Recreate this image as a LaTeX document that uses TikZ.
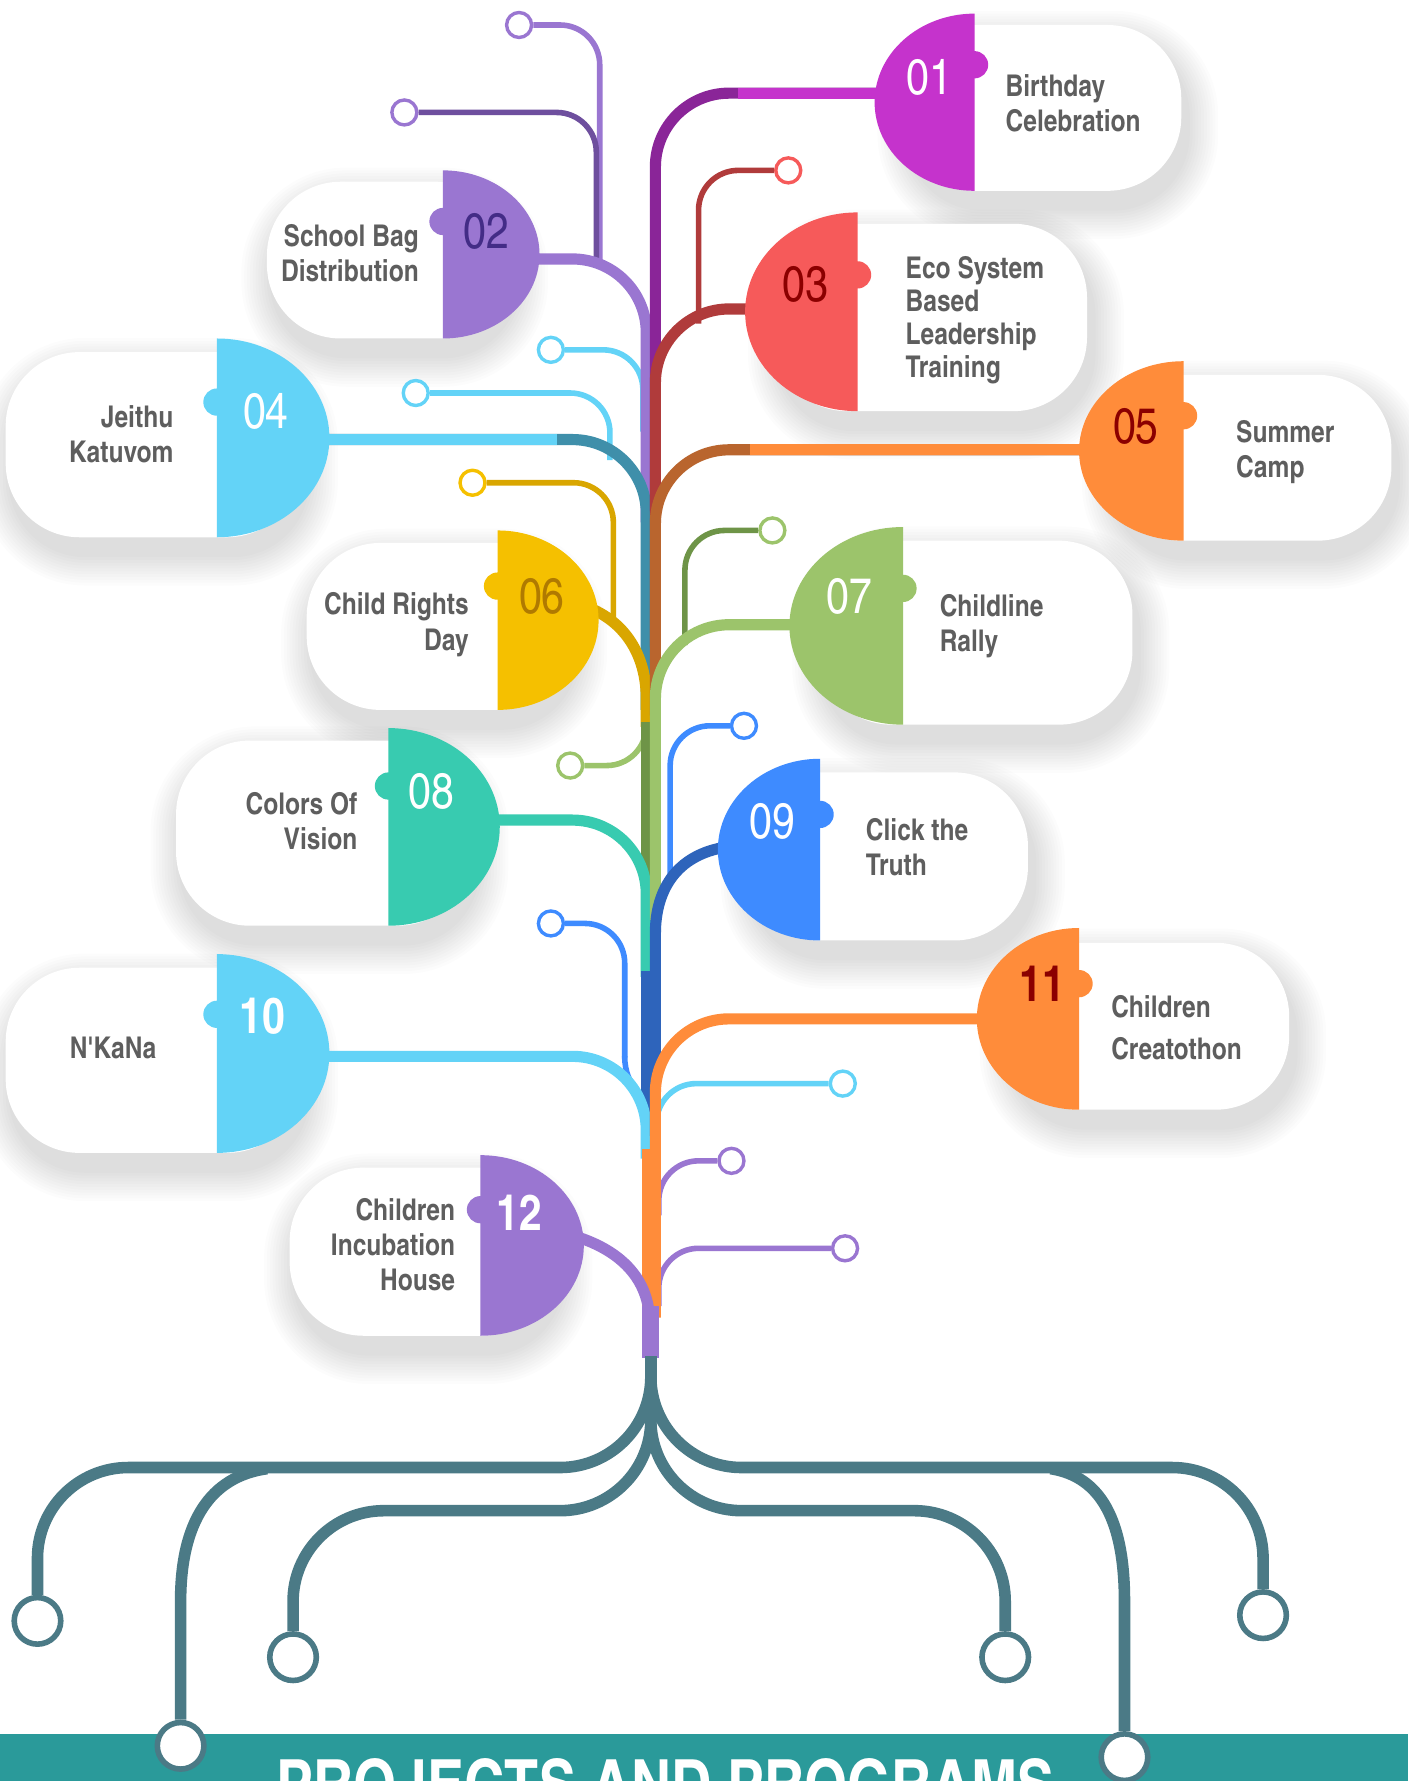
\documentclass[tikz,border=0pt]{standalone}
\usepackage{fontspec}
\usepackage{tikz}
\setmainfont{TeX Gyre Heros Cn}
\definecolor{ink}{HTML}{5E5E5E}
\definecolor{root}{HTML}{4B7A86}
\definecolor{band}{HTML}{2A9A9A}
\definecolor{p01}{HTML}{C533CC}
\definecolor{p01d}{HTML}{8A2598}
\definecolor{p02}{HTML}{9A76D1}
\definecolor{p02d}{HTML}{6E4F9E}
\definecolor{p03}{HTML}{F65A5A}
\definecolor{p03d}{HTML}{B03B3B}
\definecolor{p04}{HTML}{63D3F7}
\definecolor{p04d}{HTML}{3F8FAA}
\definecolor{p05}{HTML}{FF8C3A}
\definecolor{p05d}{HTML}{B9652E}
\definecolor{p06}{HTML}{F5C000}
\definecolor{p06d}{HTML}{D9A600}
\definecolor{p07}{HTML}{9CC46B}
\definecolor{p07d}{HTML}{6E9447}
\definecolor{p08}{HTML}{38CBB0}
\definecolor{p09}{HTML}{3E8BFF}
\definecolor{p09d}{HTML}{2E64BB}
\definecolor{p10}{HTML}{63D3F7}
\definecolor{p11}{HTML}{FF8C3A}
\definecolor{p12}{HTML}{9A76D1}
\definecolor{dkred}{HTML}{8B0000}
\definecolor{dkpurple}{HTML}{432C86}
\definecolor{dkgold}{HTML}{B07A00}
\tikzset{
  card/.style={fill=white, rounded corners=1.3cm},
  haze/.style={fill=black, opacity=0.01},
  stem/.style={line width=5.6pt, rounded corners=1.3cm},
  twig/.style={line width=2.8pt, rounded corners=0.7cm},
  bud/.style={circle, draw, fill=white, line width=1.7pt, minimum size=0.44cm, inner sep=0pt},
  rootline/.style={draw=root, line width=5.8pt, rounded corners=1.6cm},
  rootbud/.style={circle, draw=root, fill=white, line width=2.8pt, minimum size=0.82cm, inner sep=0pt},
  num/.style={font=\fontsize{25}{25}\selectfont},
  numb/.style={font=\bfseries\fontsize{25}{25}\selectfont},
  lab/.style={text=ink, font=\bfseries\fontsize{15}{17.6}\selectfont, inner sep=0pt},
  title/.style={text=white, font=\bfseries\fontsize{34}{34}\selectfont, inner sep=0pt, anchor=north},
}
\def\cards{795/22/1040/168, 235/160/450/298, 681/197/957/362,
  5/310/265/473, 975/330/1225/476, 270/478/502/625, 720/476/997/638,
  155/652/415/815, 657/680/905/828, 5/852/265/1015, 885/830/1135/977,
  255/1028/489/1176}

\begin{document}
\begin{tikzpicture}[x=0.02cm, y=-0.02cm]
  \useasboundingbox (0,0) rectangle (1240,1568);
  \fill[white] (0,0) rectangle (1240,1568);

  % cards and their soft shadows
  \foreach \xa/\ya/\xb/\yb in \cards
    \foreach \k in {1,...,11}
      \fill[haze, rounded corners={1.3cm+\k*0.05cm}]
        (\xa-2.5*\k+5,\ya-2.5*\k+15) rectangle (\xb+2.5*\k+5,\yb+2.5*\k+15);
  \foreach \xa/\ya/\xb/\yb in \cards
    \path[card] (\xa,\ya) rectangle (\xb,\yb);

  % small twigs
  \node[bud, draw=p02] (ba) at (457,22) {};
  \node[bud, draw=p02] (bb) at (356,99) {};
  \node[bud, draw=p03] (bc) at (694,150) {};
  \node[bud, draw=p04] (bd) at (485,308) {};
  \node[bud, draw=p04] (be) at (366,346) {};
  \node[bud, draw=p06] (bf) at (416,425) {};
  \node[bud, draw=p07] (bg) at (680,467) {};
  \node[bud, draw=p07] (bh) at (502,674) {};
  \node[bud, draw=p09] (bi) at (655,639) {};
  \node[bud, draw=p09] (bj) at (485,813) {};
  \node[bud, draw=p04] (bk) at (742,954) {};
  \node[bud, draw=p02] (bl) at (644,1022) {};
  \node[bud, draw=p02] (bm) at (744,1099) {};
  \draw[twig, p02] (ba.east) -- (528,22) -- (528,236);
  \draw[twig, p02d] (bb.east) -- (525,99) -- (525,230);
  \draw[twig, p03d] (bc.west) -- (615,150) -- (615,285);
  \draw[twig, p04] (bd.east) -- (566,308) -- (566,380);
  \draw[twig, p04] (be.east) -- (537,346) -- (537,405);
  \draw[twig, p06d] (bf.east) -- (540,425) -- (540,550);
  \draw[twig, p07d] (bg.west) -- (603,467) -- (603,568);
  \draw[twig, p07] (bh.east) -- (569,674) -- (569,615);
  \draw[twig, p09] (bi.west) -- (590,639) -- (590,775);
  \draw[twig, p09] (bj.east) -- (550,813) -- (550,931);
  \draw[twig, p09, sharp corners] (550,930) .. controls (550,958) and (569,962) .. (569,992);
  \draw[twig, p04] (bk.west) -- (578,954) -- (578,1010);
  \draw[twig, p02] (bl.west) -- (580,1022) -- (580,1070);
  \draw[twig, p02] (bm.west) -- (580,1099) -- (580,1150);

  % left strands
  \draw[stem, p02] (470,228) -- (569,228) -- (569,460);
  \draw[stem, p04d] (285,387) -- (569,387) -- (569,625);
  \draw[stem, p04] (285,387) -- (490,387);
  \draw[stem, p06d, sharp corners] (505,531) .. controls (545,540) and (569,572) .. (569,615) -- (569,640);
  \draw[stem, p07d] (569,636) -- (569,800);
  \draw[stem, p08] (435,722) -- (569,722) -- (569,860);
  \draw[stem, p09d] (569,855) -- (569,1000);
  \draw[stem, p10] (285,930) -- (569,930) -- (569,1020);

  % right strands
  \draw[stem, p01d] (800,82) -- (577,82) -- (577,450);
  \draw[stem, p01] (800,82) -- (650,82);
  \draw[stem, p03d] (690,272) -- (577,272) -- (577,570);
  \draw[stem, p05d] (980,396) -- (577,396) -- (577,630);
  \draw[stem, p05] (980,396) -- (660,396);
  \draw[stem, p07] (720,550) -- (577,550) -- (577,810);
  \draw[stem, p09d, sharp corners] (645,745) .. controls (597,750) and (577,782) .. (577,822) -- (577,1000);
  \draw[stem, p11] (890,897) -- (577,897) -- (577,1160);
  \draw[stem, p11, line width=8.5pt] (573,1012) -- (573,1150);
  \draw[stem, p12, sharp corners] (505,1088) .. controls (545,1100) and (572,1125) .. (572,1165);
  \draw[stem, p12, line width=8.5pt] (573,1150) -- (573,1196);

  % colour halves with their small bumps
  \foreach \f/\t/\b/\w/\e/\c/\by in {858/12/168/88/-270/p01/57, 390/150/298/85/90/p02/195,
      755/187/362/99/-270/p03/242, 191/298/473/99/90/p04/354,
      1042/318/476/92/-270/p05/366, 438/467/625/89/90/p06/516,
      795/464/638/100/-270/p07/518, 342/641/815/98/90/p08/692,
      722/668/828/90/-270/p09/717, 191/840/1015/99/90/p10/893,
      950/817/977/90/-270/p11/866, 423/1017/1176/91/90/p12/1065}
  {
    \fill[\c] (\f,\t) arc[start angle=-90, end angle=\e, x radius=\w, y radius={(\b-\t)/2}] -- cycle;
    \fill[\c] (\f,\by) circle[radius=12];
  }

  \node[num, text=white] (n01) at (818,68) {01};
  \node[num, text=dkpurple] (n02) at (428,204) {02};
  \node[num, text=dkred] (n03) at (709,250) {03};
  \node[num, text=white] (n04) at (234,362) {04};
  \node[num, text=dkred] (n05) at (1000,375) {05};
  \node[num, text=dkgold] (n06) at (477,525) {06};
  \node[num, text=white] (n07) at (748,525) {07};
  \node[num, text=white] (n08) at (380,697) {08};
  \node[num, text=white] (n09) at (680,723) {09};
  \node[numb, text=white] (n10) at (231,895) {10};
  \node[numb, text=dkred] (n11) at (918,866) {11};
  \node[numb, text=white] (n12) at (457,1068) {12};

  \node[lab, anchor=west, align=left] (t01) at (885,91) {Birthday\\Celebration};
  \node[lab, anchor=east, align=right] (t02) at (369,223) {School Bag\\Distribution};
  \node[lab, anchor=west, align=left, font=\bfseries\fontsize{15}{16.5}\selectfont] (t03) at (797,282) {Eco System\\Based\\Leadership\\Training};
  \node[lab, anchor=east, align=right] (t04) at (153,382) {Jeithu\\Katuvom};
  \node[lab, anchor=west, align=left] (t05) at (1088,398) {Summer\\Camp};
  \node[lab, anchor=east, align=right] (t06) at (413,550) {Child Rights\\Day};
  \node[lab, anchor=west, align=left] (t07) at (827,551) {Childline\\Rally};
  \node[lab, anchor=east, align=right] (t08) at (315,723) {Colors Of\\Vision};
  \node[lab, anchor=west, align=left] (t09) at (762,746) {Click the\\Truth};
  \node[lab, anchor=east, align=right] (t10) at (138,923) {N\textquotesingle KaNa};
  \node[lab, anchor=west, align=left, font=\bfseries\fontsize{15}{21}\selectfont] (t11) at (978,905) {Children\\Creatothon};
  \node[lab, anchor=east, align=right] (t12) at (401,1096) {Children\\Incubation\\House};

  % roots
  \fill[band] (0,1527) rectangle (1240,1568);
  \node[rootbud] (r1) at (33,1427) {};
  \node[rootbud] (r2) at (159,1537) {};
  \node[rootbud] (r3) at (258,1459) {};
  \node[rootbud] (r4) at (885,1459) {};
  \node[rootbud] (r5) at (1112,1422) {};
  \node[rootbud] (r6) at (990,1547) {};
  \draw[rootline] (573,1194) -- (573,1292) -- (33,1292) -- (r1.north);
  \draw[rootline, sharp corners] (235,1293) .. controls (185,1300) and (159,1340) .. (159,1410) -- (r2.north);
  \draw[rootline] (573,1194) -- (573,1330) -- (258,1330) -- (r3.north);
  \draw[rootline] (573,1194) -- (573,1330) -- (885,1330) -- (r4.north);
  \draw[rootline] (573,1194) -- (573,1292) -- (1112,1292) -- (r5.north);
  \draw[rootline, sharp corners] (925,1293) .. controls (970,1300) and (990,1340) .. (990,1410) -- (r6.north);
  \node[title] (ttl) at (586,1548) {PROJECTS AND PROGRAMS};
\end{tikzpicture}
\end{document}
